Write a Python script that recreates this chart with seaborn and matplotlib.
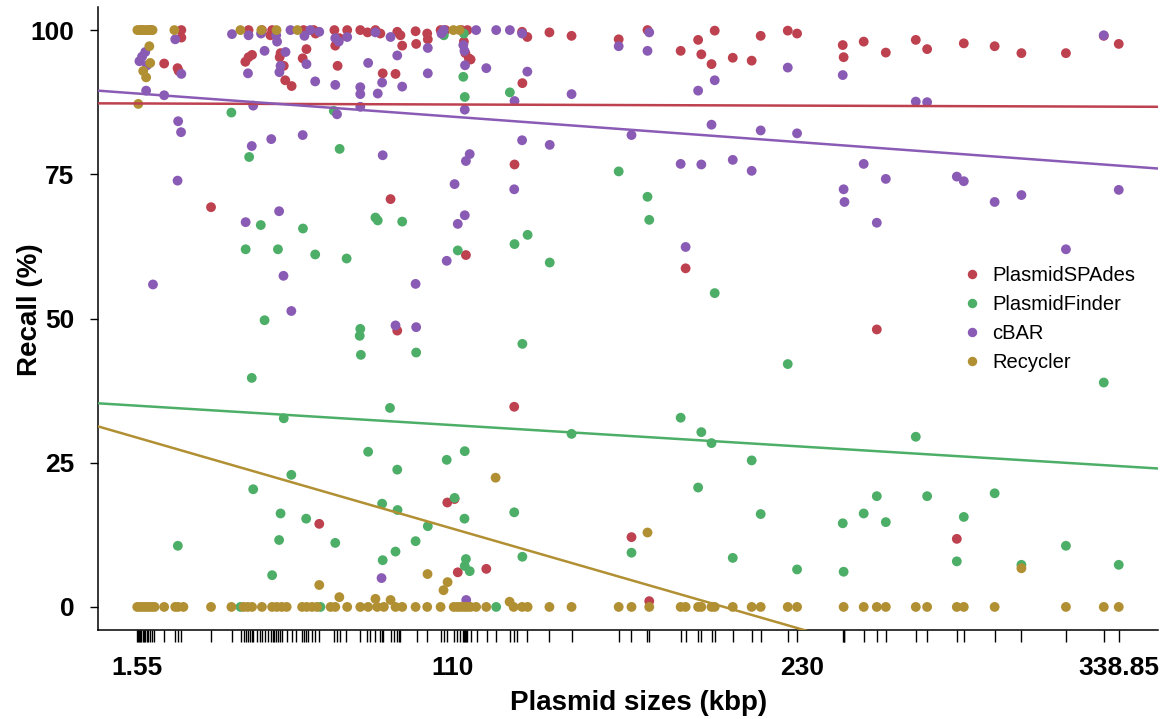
import matplotlib
matplotlib.use("Agg")
import matplotlib.pyplot as plt
import pandas as pd
import seaborn as sns
from matplotlib.lines import Line2D

# ---------------- data ----------------
tools = ["PlasmidSPAdes", "PlasmidFinder", "cBAR", "Recycler"]
colors = ["#BE4150", "#4DAE68", "#8A5BB5", "#B18F33"]

spades_size = [3.0, 6.0, 10.8, 15.4, 15.8, 16.7, 16.7, 26.9, 38.7, 39.8, 39.8, 41.0, 44.4, 47.3, 47.9,
               50.5, 50.8, 51.9, 52.4, 54.6, 58.4, 58.7, 59.7, 62.2, 62.8, 64.1,
               69.3, 69.6, 70.4, 71.0, 73.7, 78.2, 80.7, 83.4, 85.1, 85.9, 88.6, 90.3, 90.9, 90.9, 92.0,
               92.6, 97.2, 97.4, 101.2, 101.4, 105.8, 107.5, 108.1, 110.6, 111.7, 113.0, 113.8, 114.3,
               114.5, 115.0, 115.5, 116.1, 121.5, 131.1, 131.2, 133.8, 133.9, 135.6, 143.2,
               150.8, 167.0, 171.4, 176.9, 177.5, 188.3, 190.0, 194.3, 195.4, 198.9, 200.0, 206.2,
               212.7, 215.8, 225.1, 228.3, 244.0, 244.3, 251.2, 255.7, 258.8, 269.1, 273.0, 283.2,
               285.6, 296.2, 305.4, 320.7, 333.7, 338.85]
spades_recall = [100, 100, 94.2, 93.4, 92.9, 100, 98.7, 69.3, 94.5, 95.3, 100, 95.7, 100, 99.1, 100,
                 95.3, 96.0, 93.8, 91.3, 90.3, 95.1, 100, 96.7, 100, 99.4, 14.4,
                 100, 97.3, 93.8, 98.6, 100, 100, 99.6, 100, 99.4, 92.5, 70.7, 92.4, 99.7, 47.9, 99.1,
                 97.3, 99.8, 97.6, 99.4, 98.4, 100, 100, 18.1, 18.7, 6.0, 100, 98.0, 96.0,
                 61.0, 100, 95.1, 94.9, 6.6, 34.7, 76.7, 99.7, 90.8, 98.8, 99.6,
                 99.0, 98.4, 12.1, 100, 1.0, 96.4, 58.7, 98.3, 95.8, 94.1, 99.9, 95.2,
                 94.7, 99.0, 99.9, 99.4, 97.4, 95.3, 98.0, 48.1, 96.1, 98.3, 96.7, 11.8,
                 97.7, 97.2, 96.0, 96.0, 99.0, 97.6]

finder_size = [15.5, 33.9, 37.0, 38.8, 40.0, 40.9, 41.4, 44.0, 45.3, 47.9, 49.9, 50.3, 50.8, 51.9,
               54.5, 58.5, 59.6, 62.7, 64.5,
               69.1, 69.6, 71.1, 73.5, 78.0, 78.2, 78.4, 80.9, 83.4, 84.2, 85.7, 85.9, 88.4, 90.3,
               90.9, 91.0, 92.6, 97.2, 97.4, 101.4, 106.9, 107.9, 110.6, 111.7, 113.6, 113.8, 114.0,
               114.1, 114.1, 114.1, 114.5, 115.8, 124.9, 129.6, 131.1, 131.2, 133.9, 133.9, 135.7, 143.3,
               150.8, 167.0, 171.4, 176.9, 177.5, 188.3, 194.3, 195.4, 198.9, 200.0, 206.2, 212.7,
               215.8, 225.1, 228.3, 244.0, 244.3, 251.2, 255.7, 258.8, 269.1, 273.0, 283.2, 285.6,
               296.2, 305.4, 320.7, 333.7, 338.85]
finder_recall = [10.6, 85.7, 0, 62.0, 78.0, 39.7, 20.4, 66.2, 49.7, 5.5, 62.0, 11.6, 16.2, 32.7,
                 22.9, 65.6, 15.3, 61.1, 0,
                 86.0, 11.1, 79.4, 60.4, 47.0, 48.2, 43.7, 26.9, 67.5, 67.0, 17.9, 8.1, 34.5, 9.6,
                 23.8, 16.8, 66.8, 11.4, 44.1, 14.0, 99.1, 25.5, 18.9, 61.8, 91.9, 99.4, 15.3,
                 88.4, 27.0, 7.1, 8.3, 6.2, 0, 89.2, 16.4, 62.9, 45.6, 8.7, 64.5, 59.7,
                 30.0, 75.5, 9.4, 71.1, 67.1, 32.8, 20.7, 30.3, 28.4, 54.4, 8.5, 25.4,
                 16.1, 42.1, 6.5, 14.5, 6.1, 16.2, 19.2, 14.7, 29.5, 19.2, 7.9, 15.6,
                 19.7, 7.3, 10.6, 38.9, 7.3]

cbar_size = [2.3, 3.2, 4.3, 4.6, 4.9, 6.95, 10.8, 14.6, 15.4, 15.6, 16.6, 16.7, 34.1, 38.8, 39.6,
             39.8, 40.9, 41.4, 44.1, 45.3, 47.6, 49.3, 49.6, 50.3, 50.4, 50.8, 51.8, 52.5, 54.2,
             54.5, 58.4, 59.0, 59.7, 61.0, 62.7, 64.1,
             69.6, 69.6, 70.2, 70.8, 73.7, 78.2, 78.2, 78.2, 80.9, 83.4, 84.2, 85.5, 85.7, 85.9,
             88.6, 90.3, 90.9, 92.6, 97.2, 97.4, 101.4, 101.4, 106.1, 106.9, 107.9, 110.6, 111.7,
             113.6, 114.0, 114.1, 114.1, 114.2, 114.5, 114.6, 115.8, 118.0, 121.5, 124.9, 129.6,
             131.1, 131.2, 133.8, 133.8, 135.6, 143.3,
             150.8, 167.0, 171.4, 176.9, 177.5, 188.3, 190.0, 194.3, 195.4, 198.9, 200.0, 206.2,
             212.7, 215.8, 225.1, 228.3, 244.0, 244.3, 244.6, 251.2, 255.7, 258.8, 269.1, 273.0,
             283.2, 285.6, 296.2, 305.4, 320.7, 333.7, 338.85]
cbar_recall = [94.6, 95.4, 96.2, 89.5, 93.9, 55.9, 88.7, 98.4, 73.9, 84.2, 82.3, 92.4, 99.3, 66.7, 92.5,
               99.1, 79.9, 86.9, 99.4, 96.4, 81.1, 99.1, 98.0, 68.6, 92.7, 93.8, 57.4, 96.2, 100,
               51.3, 81.8, 99.0, 94.1, 100, 91.1, 99.7,
               98.6, 90.5, 85.4, 98.0, 98.8, 90.1, 88.9, 86.7, 94.3, 99.6, 89.0, 5.0, 90.9, 78.3,
               98.8, 48.8, 95.6, 90.2, 56.0, 48.5, 96.9, 92.5, 99.4, 100, 60.0, 73.3, 66.4,
               97.4, 96.4, 67.9, 86.2, 93.9, 77.3, 1.2, 78.5, 100, 93.4, 100, 100,
               72.4, 87.7, 99.4, 80.9, 92.8, 80.1,
               88.9, 97.2, 81.8, 96.4, 99.6, 76.8, 62.4, 89.5, 76.7, 83.6, 91.3, 77.5,
               75.6, 82.6, 93.5, 82.1, 92.2, 72.4, 70.2, 76.8, 66.6, 74.2, 87.6, 87.5,
               74.6, 73.8, 70.2, 71.4, 62.0, 99.1, 72.3]

recycler_size = [1.6, 2.3, 3.0, 3.7, 4.5, 5.2, 6.0, 6.8, 14.3, 37.0, 44.2, 49.4, 56.6, 110.2, 112.3,
                 5.7, 6.0, 3.6, 4.6, 1.9, 124.7, 64.1, 71.0, 83.4, 88.6, 101.3, 106.8, 108.2, 129.5,
                 176.9, 305.4,
                 1.55, 2.5, 3.5, 4.5, 5.5, 6.5, 7.5, 10.8, 14.6, 15.6, 17.4, 26.9, 33.9, 38.1, 39.5,
                 41.0, 44.4, 47.9, 49.5, 51.2, 52.9, 58.2, 59.8, 61.6, 63.3,
                 68.0, 69.6, 73.7, 78.2, 80.9, 84.0, 86.3, 90.3, 92.6, 97.2, 101.2, 105.8, 110.3,
                 111.5, 112.6, 113.8, 114.9, 116.1, 118.0, 121.5, 130.9, 133.8, 135.7, 143.2,
                 150.8, 167.0, 171.4, 177.5, 188.3, 190.0, 194.3, 195.4, 198.9, 200.0, 206.2, 212.7,
                 215.8, 225.1, 228.3, 244.3, 251.2, 255.7, 258.8, 269.1, 273.0, 283.2, 285.6, 296.2,
                 320.7, 333.7, 338.85]
recycler_recall = [100, 100, 100, 100, 100, 100, 100, 100, 100, 100, 100, 100, 100, 100, 100,
                   97.2, 94.3, 92.9, 91.8, 87.2, 22.4, 3.8, 1.7, 1.4, 1.2, 5.7, 2.9, 4.3, 0.9,
                   12.9, 6.7,
                   0, 0, 0, 0, 0, 0, 0, 0, 0, 0, 0, 0, 0, 0, 0,
                   0, 0, 0, 0, 0, 0, 0, 0, 0, 0,
                   0, 0, 0, 0, 0, 0, 0, 0, 0, 0, 0, 0, 0,
                   0, 0, 0, 0, 0, 0, 0, 0, 0, 0, 0,
                   0, 0, 0, 0, 0, 0, 0, 0, 0, 0, 0, 0,
                   0, 0, 0, 0, 0, 0, 0, 0, 0, 0, 0, 0,
                   0, 0, 0]

plasmid_sizes = [1.55, 1.9, 2.3, 2.6, 3.0, 3.4, 3.8, 4.3, 4.8, 5.3, 5.9, 6.5, 7.2, 10.8, 14.6, 15.4,
                 16.7, 26.9, 34.1, 37.2, 38.4, 39.0, 39.6, 40.2, 40.9, 41.4, 42.8, 43.9, 44.5, 45.6,
                 46.6, 47.6, 48.2, 48.7, 49.3, 49.9, 50.5, 51.4, 53.0, 54.8, 56.2, 58.3, 59.0, 59.7,
                 60.4, 61.6, 62.8, 64.1, 69.3, 70.2, 71.1, 73.4, 78.2, 80.5, 81.7, 83.4, 85.1, 85.7,
                 86.1, 88.6, 89.7, 90.8, 91.4, 92.0, 97.7, 101.2, 105.8, 106.9, 108.1, 110.3, 111.5,
                 112.6, 113.4, 113.8, 114.2, 114.5, 114.9, 116.1, 118.4, 121.8, 124.7, 129.8, 130.9,
                 132.1, 135.6, 143.2, 150.8, 167.0, 171.4, 176.9, 177.5, 188.3, 190.0, 194.3, 195.4,
                 198.9, 200.0, 206.2, 212.7, 215.8, 225.1, 228.3, 244.0, 244.3, 244.6, 251.2, 255.7,
                 258.8, 269.1, 273.0, 283.2, 285.6, 296.2, 305.4, 320.7, 333.7, 338.85]

# fitted trend lines (at the two plot edges)
fit_x = [-11.94, 352.34]
fit_spades = [87.3, 86.7]
fit_finder = [35.3, 24.0]
fit_cbar = [89.5, 76.0]
fit_recycler = [31.3, -21.7]

x_ticks = [1.55, 110, 230, 338.85]
x_ticklabels = ["1.55", "110", "230", "338.85"]
y_ticks = [0, 25, 50, 75, 100]

# ---------------- plot ----------------
sns.set_theme(style="white")
plt.rcParams["font.family"] = ["Liberation Sans", "DejaVu Sans"]
plt.rcParams.update({"text.color": "black", "axes.labelcolor": "black",
                     "xtick.color": "black", "ytick.color": "black"})

W, H = 1173, 719
fig = plt.figure(figsize=(W / 100, H / 100), dpi=100)
ax = fig.add_axes([98 / W, 1 - 630 / H, 1060 / W, 623 / H])

sizes = [spades_size, finder_size, cbar_size, recycler_size]
recalls = [spades_recall, finder_recall, cbar_recall, recycler_recall]
df = pd.concat([pd.DataFrame({"tool": t, "size": s, "recall": r})
                for t, s, r in zip(tools, sizes, recalls)], ignore_index=True)

sns.scatterplot(data=df, x="size", y="recall", hue="tool", hue_order=tools,
                palette=colors, s=50, linewidth=0, ax=ax, legend=False, zorder=3)

fits = [fit_spades, fit_finder, fit_cbar, fit_recycler]
fit_df = pd.concat([pd.DataFrame({"tool": t, "size": fit_x, "recall": f})
                    for t, f in zip(tools, fits)], ignore_index=True)
sns.lineplot(data=fit_df, x="size", y="recall", hue="tool", hue_order=tools,
             palette=colors, linewidth=1.8, ax=ax, legend=False, zorder=4,
             estimator=None, sort=False)

sns.rugplot(x=plasmid_sizes, ax=ax, height=-0.019, clip_on=False,
            color="black", linewidth=1.0, expand_margins=False)

ax.set_xlim(-11.94, 352.34)
ax.set_ylim(-4, 104)

for side in ["top", "right"]:
    ax.spines[side].set_visible(False)
for side in ["left", "bottom"]:
    ax.spines[side].set_color("black")
    ax.spines[side].set_linewidth(1.1)

ax.set_xticks(x_ticks, x_ticklabels)
ax.set_yticks(y_ticks, [str(v) for v in y_ticks])
ax.tick_params(axis="x", length=0, pad=19, labelsize=19, labelcolor="black")
ax.tick_params(axis="y", length=6, width=1, direction="out", pad=11, labelsize=19,
               left=True, color="black", labelcolor="black")
for lab in ax.get_xticklabels() + ax.get_yticklabels():
    lab.set_fontweight("bold")

ax.set_xlabel("Plasmid sizes (kbp)", fontsize=20, fontweight="bold", va="center", color="black")
ax.xaxis.set_label_coords((639 - 98) / 1060, (630 - 703) / 623)
ax.set_ylabel("Recall (%)", fontsize=20, fontweight="bold", va="center", color="black")
ax.yaxis.set_label_coords((30 - 98) / 1060, (630 - 310) / 623)

handles = [Line2D([0], [0], marker="o", linestyle="", markersize=6.8,
                  markerfacecolor=c, markeredgewidth=0) for c in colors]
leg = ax.legend(handles, tools, loc="upper left", bbox_to_anchor=(962 / W, 1 - 266 / H),
                bbox_transform=fig.transFigure, frameon=False, fontsize=14.5,
                handlelength=1.0, handletextpad=0.5, labelspacing=0.5,
                borderpad=0, borderaxespad=0)
for t in leg.get_texts():
    t.set_color("black")

fig.savefig("out.png", dpi=100)
